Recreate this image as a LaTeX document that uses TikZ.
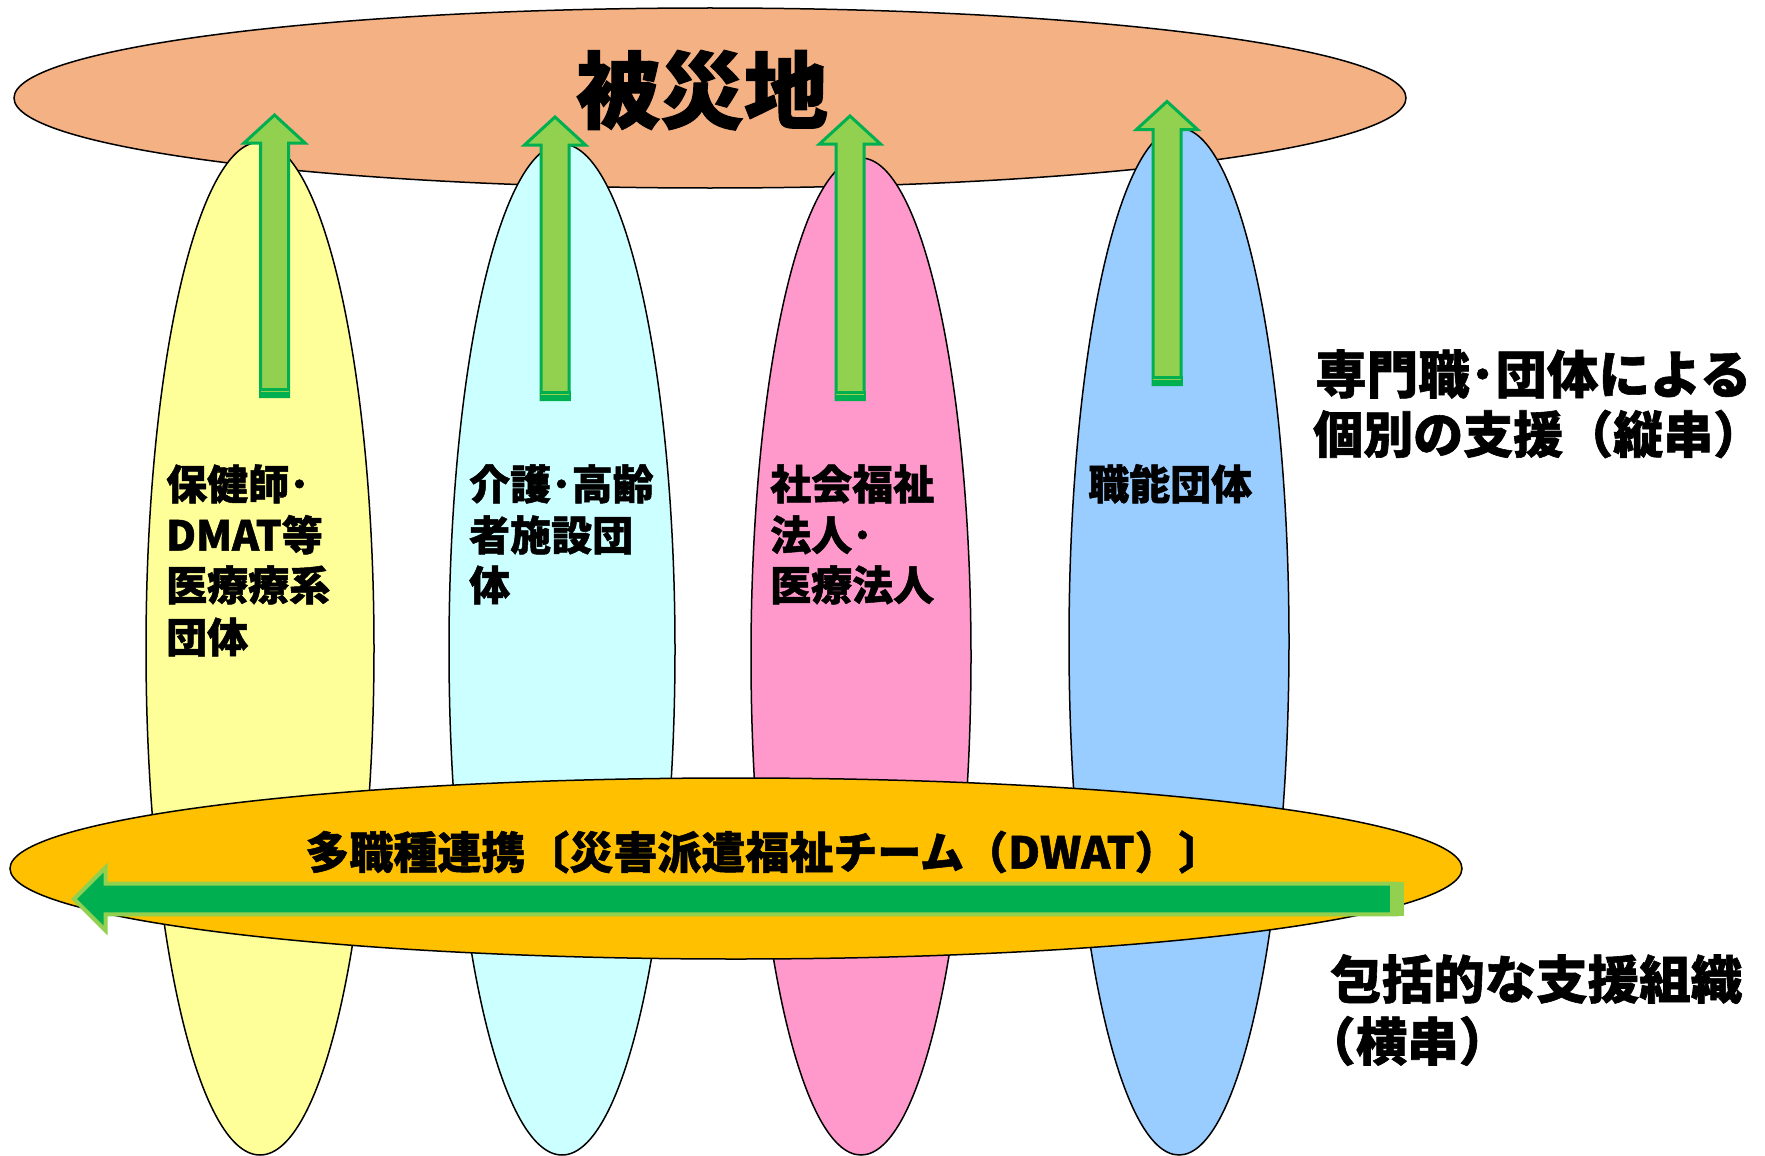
\documentclass[tikz,border=0pt]{standalone}
\usepackage{fontspec}
\newfontfamily\jp{Noto Sans CJK JP}[BoldFeatures={FakeBold=1.2}]
\usetikzlibrary{shapes.geometric}
\definecolor{salmon}{HTML}{F4B183}
\definecolor{ylw}{HTML}{FFFF99}
\definecolor{cyn}{HTML}{CCFFFF}
\definecolor{pnk}{HTML}{FF99CC}
\definecolor{blu}{HTML}{99CCFF}
\definecolor{gold}{HTML}{FFC000}
\definecolor{arrlight}{HTML}{92D050}
\definecolor{arrdark}{HTML}{00B050}
\tikzset{
  blob/.style={ellipse, draw=black, line width=1.5pt, inner sep=0pt, outer sep=0pt},
  uparr/.pic={
    \path[draw=arrdark, fill=arrlight, line width=3pt, line join=miter]
      (0,0) -- (30.5,28) -- (14,28) -- (14,#1) -- (-14,#1) -- (-14,28) -- (-30.5,28) -- cycle;
    \fill[arrdark] (-15.5,#1-9) rectangle (15.5,#1+1.5);
    \draw[arrlight, line width=1pt] (-14,#1-5) -- (14,#1-5);
  },
  leftarr/.pic={
    \path[draw=arrlight, fill=arrdark, line width=4pt, line join=miter]
      (0,0) -- (31.5,-31.5) -- (31.5,-15.3) -- (#1,-15.3) -- (#1,15.3) -- (31.5,15.3) -- (31.5,31.5) -- cycle;
    \fill[arrlight] (#1-6,-17.3) rectangle (#1+8,17.3);
  },
  lbl/.style={inner sep=0pt, anchor=west, font=\jp\bfseries\fontsize{41pt}{41pt}\selectfont, text height=34pt, text depth=3pt},
  side/.style={inner sep=0pt, anchor=west, font=\jp\bfseries\fontsize{51.5pt}{51.5pt}\selectfont, text height=42.7pt, text depth=3.6pt},
  sidesm/.style={inner sep=0pt, anchor=west, font=\jp\bfseries\fontsize{50pt}{50pt}\selectfont, text height=41.5pt, text depth=3.5pt},
  banner/.style={inner sep=0pt, font=\jp\bfseries\fontsize{44pt}{44pt}\selectfont, text height=36.5pt, text depth=3.1pt},
  title/.style={inner sep=0pt, font=\jp\bfseries\fontsize{84pt}{84pt}\selectfont, text height=69.7pt, text depth=5.9pt},
}
\begin{document}
\begin{tikzpicture}[x=1pt,y=-1pt]
\useasboundingbox (0,0) rectangle (1765,1156);
% disaster area
\node[blob, fill=salmon, minimum width=1392pt, minimum height=180pt] (site) at (710,98) {};
% vertical groups
\node[blob, fill=ylw, minimum width=228pt, minimum height=1013pt] (g1) at (260,648.5) {};
\node[blob, fill=cyn, minimum width=226pt, minimum height=1011pt] (g2) at (562,649.5) {};
\node[blob, fill=pnk, minimum width=220pt, minimum height=997pt] (g3) at (861,656.5) {};
\node[blob, fill=blu, minimum width=220pt, minimum height=1027pt] (g4) at (1179,641.5) {};
% up arrows
\coordinate (t1) at (274.5,115);
\coordinate (t2) at (555,117);
\coordinate (t3) at (850,116);
\coordinate (t4) at (1167,101.5);
\pic at (t1) {uparr=281.5};
\pic at (t2) {uparr=282.5};
\pic at (t3) {uparr=283.5};
\pic at (t4) {uparr=283};
% horizontal organisation
\node[blob, fill=gold, minimum width=1452pt, minimum height=181pt] (team) at (736,868.5) {};
\coordinate (lt) at (74,899);
\pic at (lt) {leftarr=1322};
% texts
\node[title] (ttl) at (702,90) {被災地};
\node[banner] (bt) at (764,852) {多職種連携〔災害派遣福祉チーム（DWAT）〕};
\node[lbl] (y1) at (166,484) {保健師･};
\node[lbl] (y2) at (166,535) {DMAT等};
\node[lbl] (y3) at (166,585) {医療療系};
\node[lbl] (y4) at (166,637) {団体};
\node[lbl] (c1) at (469,484) {介護･高齢};
\node[lbl] (c2) at (469,535) {者施設団};
\node[lbl] (c3) at (469,585) {体};
\node[lbl] (p1) at (770,484) {社会福祉};
\node[lbl] (p2) at (770,535) {法人･};
\node[lbl] (p3) at (770,585) {医療法人};
\node[lbl] (b1) at (1088,484) {職能団体};
\node[side] (r1) at (1315,374) {専門職･団体による};
\node[sidesm] (r2) at (1313,434) {個別の支援（縦串{\addfontfeature{RawFeature=+halt}）}};
\node[side] (r3) at (1330,979) {包括的な支援組織};
\node[side] (r4) at (1304,1041) {（横串）};
\end{tikzpicture}
\end{document}
